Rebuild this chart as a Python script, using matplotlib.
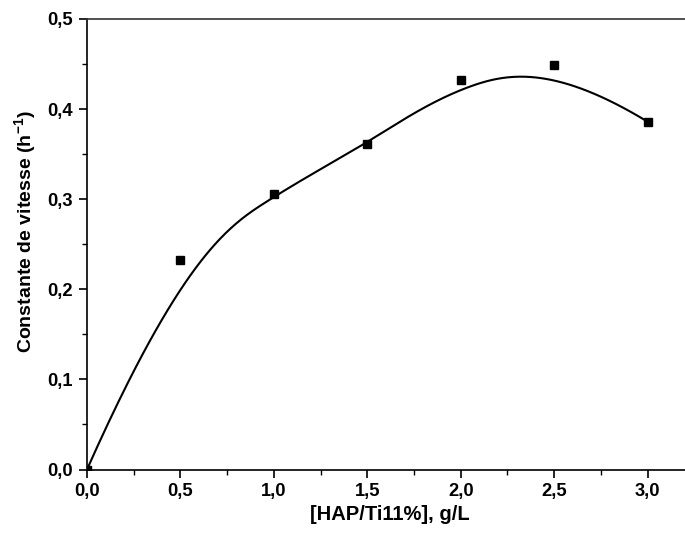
import numpy as np
import matplotlib
matplotlib.use("Agg")
import matplotlib.pyplot as plt
from matplotlib.ticker import MultipleLocator, FuncFormatter

# Data
conc = [0.0, 0.5, 1.0, 1.5, 2.0, 2.5, 3.0]
k_rate = [0.0, 0.233, 0.306, 0.361, 0.432, 0.449, 0.386]
xlabel = "[HAP/Ti11%], g/L"
ylabel = r"Constante de vitesse (h$^{-1}$)"

plt.rcParams['font.family'] = ['Liberation Sans', 'DejaVu Sans']
plt.rcParams['font.weight'] = 'bold'
plt.rcParams['mathtext.fontset'] = 'custom'
plt.rcParams['mathtext.rm'] = 'Liberation Sans:bold'
plt.rcParams['mathtext.it'] = 'Liberation Sans:bold'
plt.rcParams['mathtext.bf'] = 'Liberation Sans:bold'


def bspline_curve(px, py, degree=3, num=400):
    px = np.asarray(px, float)
    py = np.asarray(py, float)
    n = len(px)
    inner = np.linspace(0, 1, n - degree + 1)
    knots = np.concatenate([[0] * degree, inner, [1] * degree])
    t = np.linspace(0, 1, num)
    t[-1] = 1 - 1e-12

    def basis(i, k, tt):
        if k == 0:
            return ((knots[i] <= tt) & (tt < knots[i + 1])).astype(float)
        out = np.zeros_like(tt)
        d1 = knots[i + k] - knots[i]
        d2 = knots[i + k + 1] - knots[i + 1]
        if d1 > 0:
            out += (tt - knots[i]) / d1 * basis(i, k - 1, tt)
        if d2 > 0:
            out += (knots[i + k + 1] - tt) / d2 * basis(i + 1, k - 1, tt)
        return out

    B = np.array([basis(i, degree, t) for i in range(n)])
    return B.T @ px, B.T @ py


fig = plt.figure(figsize=(6.85, 5.36), dpi=100)
ax = fig.add_axes([87 / 685, 66.5 / 536, 598 / 685, (469.5 - 19) / 536])

cx, cy = bspline_curve(conc, k_rate)
ax.plot(cx, cy, color='black', lw=1.5, zorder=2)
ax.plot(conc, k_rate, linestyle='none', marker='s', markersize=6,
        color='black', zorder=3)

ax.set_xlim(0, 3.2)
ax.set_ylim(0, 0.5)
ax.xaxis.set_major_locator(MultipleLocator(0.5))
ax.xaxis.set_minor_locator(MultipleLocator(0.25))
ax.yaxis.set_major_locator(MultipleLocator(0.1))
ax.yaxis.set_minor_locator(MultipleLocator(0.05))
fmt = FuncFormatter(lambda v, p: f"{v:.1f}".replace('.', ','))
ax.xaxis.set_major_formatter(fmt)
ax.yaxis.set_major_formatter(fmt)

ax.tick_params(which='major', direction='out', length=5.8, width=1.2,
               labelsize=13.2, pad=4.2, top=False, right=False)
ax.tick_params(which='minor', direction='out', length=3.8, width=1.0,
               top=False, right=False)
for lab in ax.get_xticklabels() + ax.get_yticklabels():
    lab.set_fontweight('bold')

for side in ['left', 'bottom', 'top']:
    ax.spines[side].set_linewidth(1.2)
ax.spines['top'].set_color('#333333')
ax.spines['right'].set_visible(False)

ax.set_xlabel(xlabel, fontsize=14.5, fontweight='bold')
ax.set_ylabel(ylabel, fontsize=14, fontweight='bold')
ax.xaxis.set_label_coords((390 - 87) / 598, (469.5 - 514) / 450.5)
ax.xaxis.label.set_va('center')
ax.yaxis.set_label_coords((25 - 87) / 598, (469.5 - 232) / 450.5)
ax.yaxis.label.set_va('center')

fig.savefig("out.png", dpi=100)
